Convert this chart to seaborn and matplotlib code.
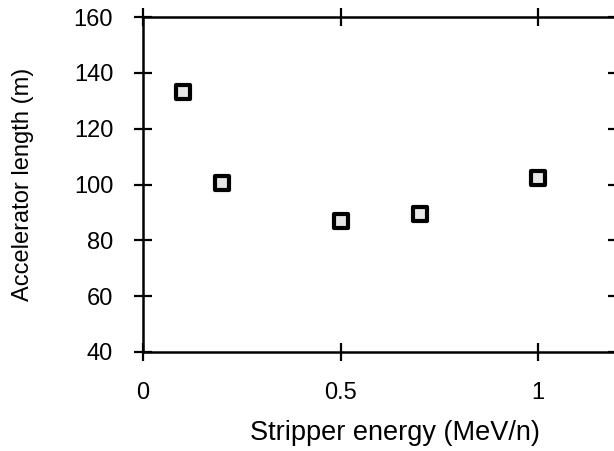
import matplotlib
matplotlib.use("Agg")
import matplotlib.pyplot as plt
import seaborn as sns
import pandas as pd

energy = [0.1, 0.2, 0.5, 0.7, 1.0]
length = [133, 100.5, 87, 89.5, 102.5]
xticks = [0, 0.5, 1]
yticks = [40, 60, 80, 100, 120, 140, 160]

sns.set_theme(style="white")
plt.rcParams['font.family'] = ['Liberation Sans', 'DejaVu Sans']

df = pd.DataFrame({"energy": energy, "length": length})

fig = plt.figure(figsize=(6.14, 4.51), dpi=100)
ax = fig.add_axes([143/614, 99/451, (617-143)/614, (352-17)/451])
sns.scatterplot(data=df, x="energy", y="length", ax=ax, marker="s", s=90,
                facecolor="#e6e6e6", edgecolor="black", linewidth=3.0, zorder=3)
ax.set_xlim(0, 1.2)
ax.set_ylim(40, 160)
ax.set_xticks(xticks)
ax.set_xticklabels(["0", "0.5", "1"])
ax.set_yticks(yticks)
for s in ax.spines.values():
    s.set_color("black")
    s.set_linewidth(1.8)
ax.tick_params(axis="both", which="major", direction="inout", length=13, width=1.6,
               color="black", labelsize=17, top=True, right=True,
               bottom=True, left=True)
ax.tick_params(axis="y", pad=15)
ax.tick_params(axis="x", pad=15)
ax.set_xlabel("Stripper energy (MeV/n)", fontsize=19.5, color="black")
ax.set_ylabel("Accelerator length (m)", fontsize=17, color="black")
ax.xaxis.set_label_coords((395-143)/(617-143), -(420-352)/(352-17))
ax.yaxis.set_label_coords(-(143-34)/(617-143), 0.5)
for lab in ax.get_xticklabels() + ax.get_yticklabels():
    lab.set_color("black")
fig.savefig("out.png", dpi=100)
